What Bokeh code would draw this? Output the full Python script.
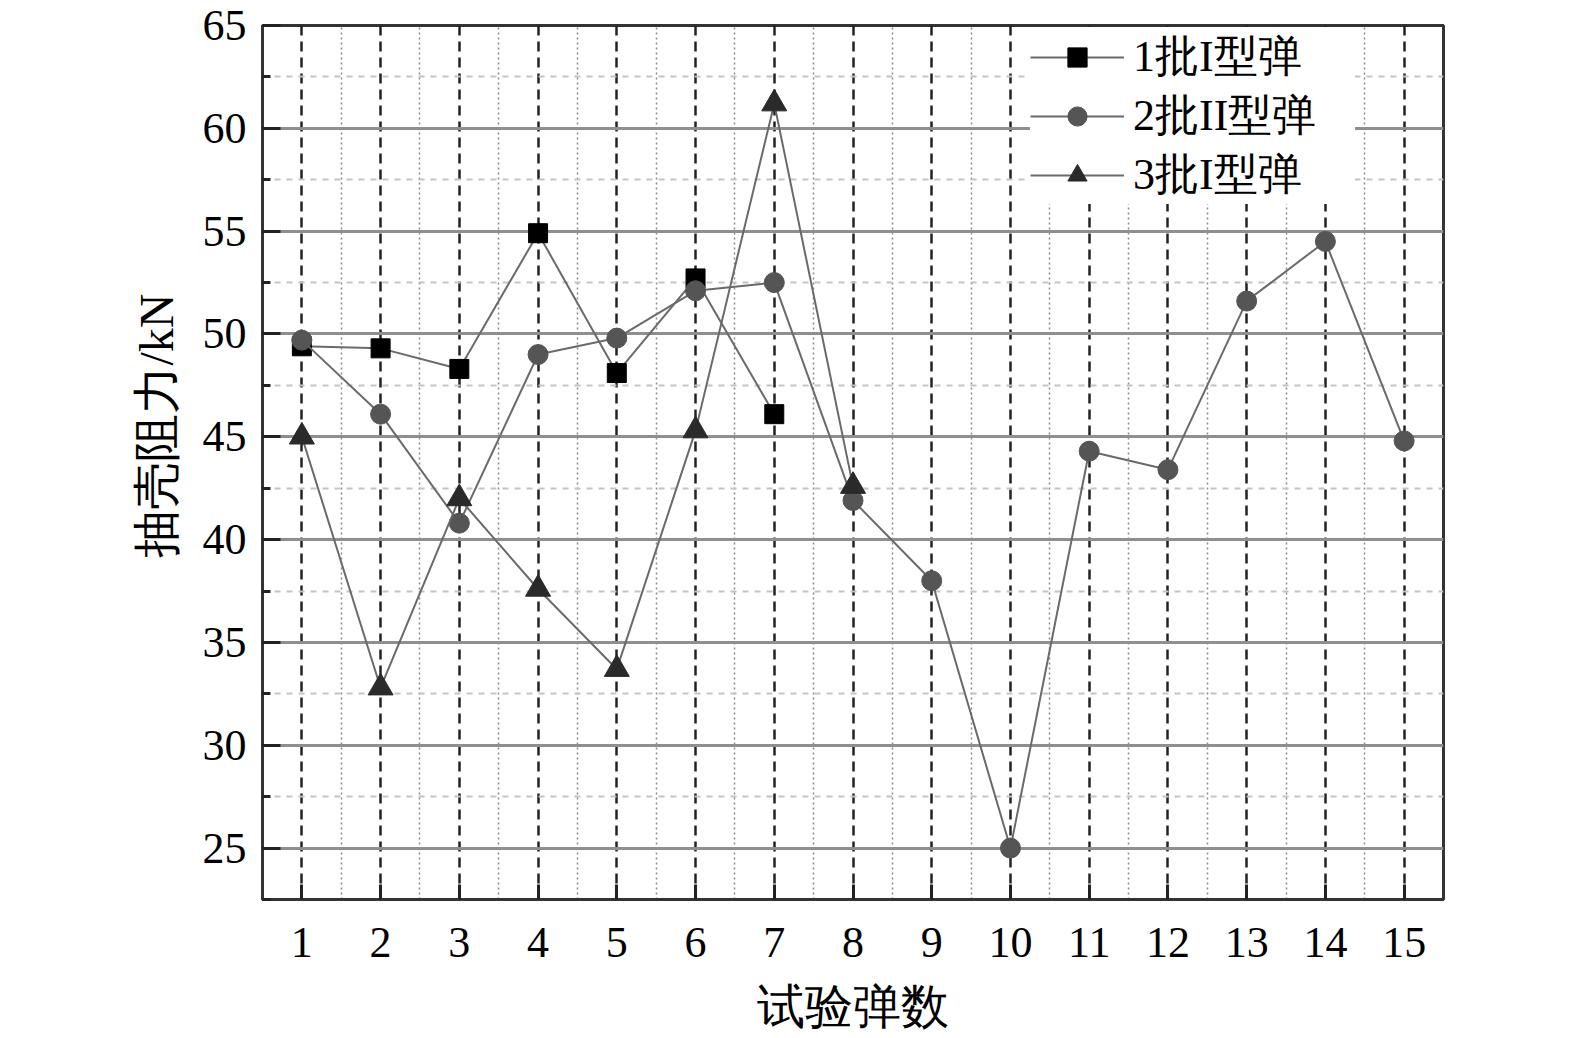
from bokeh.plotting import figure
from bokeh.models import FixedTicker, Range1d, Legend, LegendItem, Title
from bokeh.embed import file_html
from bokeh.resources import INLINE

x_ticks = list(range(1, 16))
y_ticks = [25, 30, 35, 40, 45, 50, 55, 60, 65]

x1 = [1, 2, 3, 4, 5, 6, 7]
s1 = [49.4, 49.3, 48.3, 54.9, 48.1, 52.7, 46.1]
x2 = list(range(1, 16))
s2 = [49.7, 46.1, 40.8, 49.0, 49.8, 52.1, 52.5, 41.9, 38.0, 25.0, 44.3, 43.4, 51.6, 54.5, 44.8]
x3 = [1, 2, 3, 4, 5, 6, 7, 8]
s3 = [45.0, 32.8, 42.0, 37.6, 33.7, 45.3, 61.2, 42.6]

labels = ["1批I型弹", "2批II型弹", "3批I型弹"]
x_title = "试验弹数"
y_title = "抽壳阻力/kN"

FONT = "Liberation Serif"

p = figure(frame_width=1181, frame_height=874, min_border_left=262, min_border_right=108,
           min_border_top=25, min_border_bottom=118,
           x_range=Range1d(0.5, 15.5), y_range=Range1d(22.5, 65),
           output_backend="svg", toolbar_location=None,
           x_axis_label=x_title)

p.background_fill_color = "white"
p.border_fill_color = "white"
p.outline_line_color = "#333333"
p.outline_line_width = 3

p.xaxis.ticker = FixedTicker(ticks=x_ticks, minor_ticks=[i + 0.5 for i in range(0, 16)])
p.yaxis.ticker = FixedTicker(ticks=y_ticks, minor_ticks=[22.5 + 5 * i for i in range(10)])

for ax in (p.xaxis[0], p.yaxis[0]):
    ax.axis_line_color = "#333333"
    ax.axis_line_width = 3
    ax.major_label_text_font = FONT
    ax.major_label_text_font_size = "44px"
    ax.major_label_text_color = "black"
    ax.axis_label_text_font = FONT
    ax.axis_label_text_font_size = "48px"
    ax.axis_label_text_font_style = "normal"
    ax.axis_label_text_color = "black"
    ax.major_tick_out = 0
    ax.minor_tick_out = 0
    ax.major_tick_line_color = "#222222"
    ax.minor_tick_line_color = "#222222"
    ax.major_tick_line_width = 3
    ax.minor_tick_line_width = 3

p.yaxis.major_tick_in = 18
p.yaxis.minor_tick_in = 8
p.yaxis.major_label_standoff = 16
p.xaxis.major_tick_in = 15
p.xaxis.minor_tick_in = 0
p.xaxis.major_label_standoff = 28
p.xaxis.axis_label_standoff = 20

# grids
p.xgrid.grid_line_color = "#222222"
p.xgrid.grid_line_width = 2.5
p.xgrid.grid_line_dash = "10 6"
p.xgrid.minor_grid_line_color = "#8a8a8a"
p.xgrid.minor_grid_line_width = 1.5
p.xgrid.minor_grid_line_dash = "2 3"

p.ygrid.grid_line_color = "#8f8f8f"
p.ygrid.grid_line_width = 3
p.ygrid.grid_line_dash = "solid"
p.ygrid.minor_grid_line_color = "#c4c4c4"
p.ygrid.minor_grid_line_width = 2
p.ygrid.minor_grid_line_dash = "6 6"

line_col = "#6a6a6a"
l1 = p.line(x1, s1, line_color=line_col, line_width=2)
m1 = p.scatter(x1, s1, marker="square", size=19, fill_color="black", line_color="black")
l2 = p.line(x2, s2, line_color=line_col, line_width=2)
m2 = p.scatter(x2, s2, marker="circle", size=20, fill_color="#555555", line_color="#555555")
l3 = p.line(x3, s3, line_color=line_col, line_width=2)
m3 = p.scatter(x3, s3, marker="triangle", size=25, fill_color="#2a2a2a", line_color="#2a2a2a")

legend = Legend(items=[LegendItem(label=labels[0], renderers=[l1, m1]),
                       LegendItem(label=labels[1], renderers=[l2, m2]),
                       LegendItem(label=labels[2], renderers=[l3, m3])],
                location=(768, 695))
legend.label_text_font = FONT
legend.label_text_font_size = "44px"
legend.label_text_color = "black"
legend.glyph_width = 94
legend.glyph_height = 48
legend.label_height = 48
legend.label_width = 222
legend.label_standoff = 9
legend.spacing = 0
legend.padding = 4
legend.margin = 0
legend.border_line_color = None
legend.background_fill_color = "white"
legend.background_fill_alpha = 1.0
p.add_layout(legend, "center")

ytitle = Title(text=y_title, align="left", offset=342, standoff=33,
               text_font=FONT, text_font_size="48px", text_font_style="normal",
               text_color="black")
p.add_layout(ytitle, "left")

open("out.html", "w").write(file_html(p, INLINE))
